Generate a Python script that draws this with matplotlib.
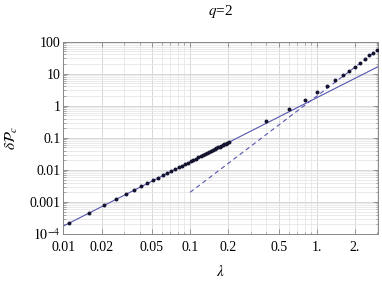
import numpy as np
import matplotlib
matplotlib.use("Agg")
import matplotlib.pyplot as plt
from matplotlib.ticker import FixedLocator, FixedFormatter, NullFormatter

plt.rcParams['font.family'] = ['Liberation Serif', 'DejaVu Serif']
plt.rcParams['mathtext.fontset'] = 'stix'

# dots, small lambda
lam_small = [0.011, 0.016, 0.021, 0.026, 0.031, 0.036, 0.041, 0.046, 0.051, 0.056,
             0.061, 0.066, 0.071, 0.076, 0.081, 0.086, 0.091, 0.096, 0.101, 0.106,
             0.111, 0.116, 0.121, 0.126, 0.131, 0.136, 0.141, 0.146, 0.151, 0.156,
             0.161, 0.166, 0.171, 0.176, 0.181, 0.186, 0.191, 0.196, 0.201]
p_small = [2.2e-4, 4.7e-4, 8.1e-4, 1.24e-3, 1.76e-3, 2.38e-3, 3.08e-3, 3.88e-3,
           4.77e-3, 5.75e-3, 6.82e-3, 7.98e-3, 9.23e-3, 1.057e-2, 1.20e-2, 1.352e-2,
           1.513e-2, 1.683e-2, 1.862e-2, 2.05e-2, 2.247e-2, 2.453e-2, 2.668e-2,
           2.892e-2, 3.125e-2, 3.367e-2, 3.618e-2, 3.878e-2, 4.147e-2, 4.425e-2,
           4.712e-2, 5.008e-2, 5.313e-2, 5.627e-2, 5.95e-2, 6.282e-2, 6.623e-2,
           6.973e-2, 7.332e-2]

# dots, large lambda
lam_large = [0.4, 0.6, 0.8, 1.0, 1.2, 1.4, 1.6, 1.8, 2.0, 2.2, 2.4, 2.6, 2.8, 3.0]
p_large = [0.34, 0.79, 1.52, 2.7, 4.15, 6.3, 9.0, 12.4, 16.6, 22.1, 28.9, 37.1, 45.4, 55.1]

# reference lines
solid_x = [0.01, 3.05]
solid_y = [1.78e-4, 16.6]
dash_x = [0.1, 3.05]
dash_y = [2.0e-3, 56.7]

xmaj = [0.01, 0.02, 0.05, 0.1, 0.2, 0.5, 1.0, 2.0]
xlab = ["0.01", "0.02", "0.05", "0.1", "0.2", "0.5", "1.", "2."]
ymaj = [1e-4, 1e-3, 1e-2, 1e-1, 1, 10, 100]
ylab = [r"$10^{-4}$", "0.001", "0.01", "0.1", "1", "10", "100"]

fig = plt.figure(figsize=(3.82, 2.81), dpi=100)
ax = fig.add_axes([0.166, 0.167, 0.824, 0.685])

ax.set_xscale('log')
ax.set_yscale('log')
ax.set_xlim(0.01, 3.05)
ax.set_ylim(1e-4, 100)

xminor = [k * 10.0 ** e for e in (-2, -1, 0) for k in range(1, 10)]
xminor = [v for v in xminor if v not in xmaj and v <= 3.05]
yminor = [k * 10.0 ** e for e in range(-4, 2) for k in range(2, 10)]

for v in xminor:
    ax.axvline(v, color='#e8e8e8', lw=0.6, zorder=0)
for v in xmaj:
    ax.axvline(v, color='#d2d2d2', lw=0.6, zorder=0)
for v in yminor:
    ax.axhline(v, color='#e6e6e6', lw=0.6, zorder=0)
for v in ymaj:
    ax.axhline(v, color='#d2d2d2', lw=0.6, zorder=0)

ax.plot(solid_x, solid_y, color='#5555b0', lw=0.8, zorder=2)
ax.plot(dash_x, dash_y, color='#5555b0', lw=0.8, ls=(0, (4, 3)), zorder=2)
ax.scatter(lam_small, p_small, s=8, color='#141430', lw=0, zorder=3)
ax.scatter(lam_large, p_large, s=8, color='#141430', lw=0, zorder=3)

ax.xaxis.set_major_locator(FixedLocator(xmaj))
ax.xaxis.set_major_formatter(FixedFormatter(xlab))
ax.xaxis.set_minor_locator(FixedLocator(xminor))
ax.xaxis.set_minor_formatter(NullFormatter())
ax.yaxis.set_major_locator(FixedLocator(ymaj))
ax.yaxis.set_major_formatter(FixedFormatter(ylab))
ax.yaxis.set_minor_locator(FixedLocator(yminor))
ax.yaxis.set_minor_formatter(NullFormatter())

ax.tick_params(which='both', direction='in', top=True, right=True, labelsize=10, color='#888888')
ax.tick_params(which='major', length=3.5, width=0.6)
ax.tick_params(axis='x', which='major', pad=5)
ax.tick_params(axis='y', which='major', pad=2)
ax.tick_params(which='minor', length=1.8, width=0.5)
for s in ax.spines.values():
    s.set_color('#888888')
    s.set_linewidth(0.7)

ax.set_xlabel(r"$\lambda$", fontsize=11, labelpad=7)
ax.set_ylabel(r"$\delta\mathcal{P}_c$", fontsize=11, labelpad=7)
ax.set_title(r"$q$=2", fontsize=11, pad=19)

fig.savefig("out.png", dpi=100)
